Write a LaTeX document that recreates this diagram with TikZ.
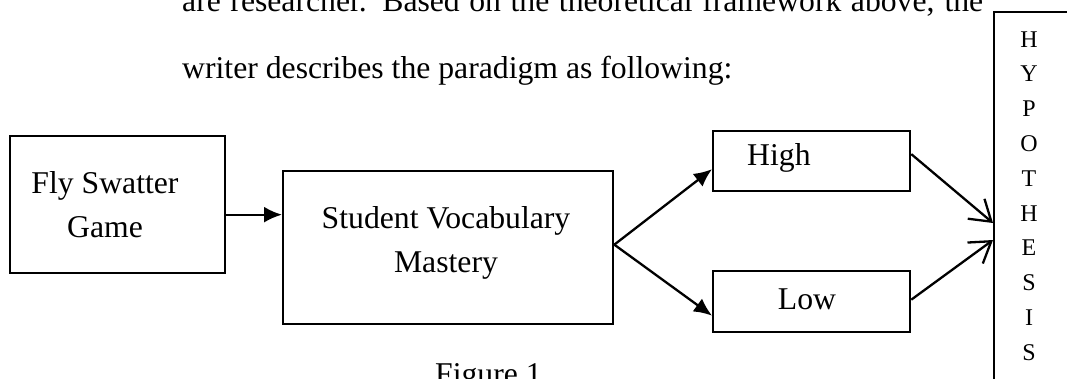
\documentclass[tikz,border=0pt]{standalone}
\usepackage{fontspec}
\setmainfont{Liberation Serif}
\usetikzlibrary{arrows.meta}
\newcommand\bigf{\fontsize{31.7}{44}\selectfont}
\newcommand\hypf{\fontsize{24}{34.8}\selectfont}
\begin{document}
\begin{tikzpicture}[x=1pt,y=-1pt,
  boxst/.style={draw,line width=2.3pt,inner sep=0pt,anchor=north west},
  txt/.style={inner sep=0pt,font=\bigf,align=center},
  fillarrow/.style={line width=2.3pt,-{Latex[length=18pt,width=16pt]}},
  openarrow/.style={line width=2.3pt,-{Straight Barb[length=20pt,width=26pt]}}]
\useasboundingbox (0,0) rectangle (1067,378);
\clip (0,0) rectangle (1067,378);
% paragraph text
\node[inner sep=0pt,anchor=base west,font=\bigf] (line1) at (182,11)
  {\hbox to 801pt{are researcher. Based on the theoretical framework above, the}};
\node[inner sep=0pt,anchor=base west,font=\bigf] (line2) at (182,78)
  {writer describes the paradigm as following:};
% boxes
\node[boxst,minimum width=215pt,minimum height=137pt] (fly) at (9,135) {};
\node[txt] (flytxt) at (105,205) {Fly Swatter\\Game};
\node[boxst,minimum width=330pt,minimum height=153pt] (student) at (282,170) {};
\node[txt] (studtxt) at (446,243) {Student Vocabulary\\Mastery};
\node[boxst,minimum width=197pt,minimum height=60pt] (high) at (712,130) {};
\node[txt,anchor=west] (hightxt) at (747,158) {High};
\node[boxst,minimum width=197pt,minimum height=61pt] (low) at (712,270) {};
\node[txt] (lowtxt) at (807,299) {Low};
% hypothesis box
\draw[line width=2.3pt] (994,400) -- (994,12) -- (1080,12);
\coordinate (hypA) at (993,223);
\coordinate (hypB) at (993,240);
\foreach \L [count=\i from 0] in {H,Y,P,O,T,H,E,S,I,S}
  \node[inner sep=0pt,anchor=base,font=\hypf] (hyp\i) at (1029,{47+34.8*\i}) {\L};
% connectors
\draw[fillarrow] ([yshift=-10pt]fly.east) -- ([yshift=-10pt]fly.east -| student.west);
\draw[fillarrow] ([yshift=3pt]student.east) -- ([yshift=-8pt]high.west);
\draw[fillarrow] ([yshift=3pt]student.east) -- ([yshift=-14pt]low.west);
\draw[openarrow] ([yshift=7pt]high.east) -- (hypA);
\draw[openarrow] ([yshift=2pt]low.east) -- (hypB);
% caption
\node[inner sep=0pt,anchor=base west,font=\bigf] (caption) at (435,384) {Figure 1};
\end{tikzpicture}
\end{document}
